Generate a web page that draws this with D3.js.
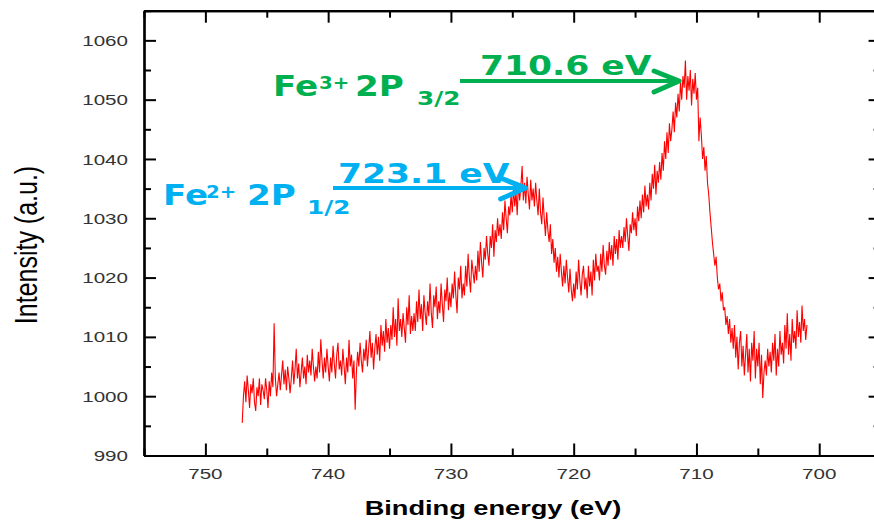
<!DOCTYPE html>
<html>
<head>
<meta charset="utf-8">
<script src="https://cdn.jsdelivr.net/npm/d3@7/dist/d3.min.js"></script>
<style>
  html, body { margin: 0; padding: 0; background: #fff; overflow: hidden; }
  svg { display: block; }
</style>
</head>
<body>
<svg id="chart" width="874" height="524"></svg>
<script>
// Fe 2p XPS spectrum: binding energy from 747.0 eV down to 701.0 eV in 0.1 eV steps
const energyStart = 747.0;
const energyStep = -0.1;
const intensity = [
  995.5, 1000, 1002.5, 999, 1003.5, 1001, 998, 1002, 1000.5, 1003,
  999, 997.5, 1001.5, 1000, 1003, 998.5, 1002, 1001, 999.5, 1003,
  1001, 998, 1002.5, 1000, 1004, 1001.5, 1012.3, 1003, 1000, 1002,
  1004, 1001, 1003.5, 1006, 1002, 1004.5, 1001, 1005, 1003, 1000.5,
  1003, 1006, 1002, 1004.5, 1008, 1003, 1005.5, 1001.5, 1004, 1006.5,
  1003, 1005, 1002, 1007, 1004, 1006, 1003.5, 1008, 1005, 1002.5,
  1005, 1003, 1007.5, 1004, 1009.6, 1006, 1003, 1006.5, 1004, 1008,
  1005, 1002.5, 1006.5, 1004, 1008.5, 1005.5, 1003, 1007, 1009, 1004.5,
  1006, 1003.5, 1008, 1005, 1002, 1006.5, 1004, 1009.5, 1005, 1007,
  1003, 1006, 997.7, 1004, 1007.5, 1005, 1009, 1006, 1004, 1008,
  1006, 1009.5, 1005, 1008, 1011, 1006.5, 1009, 1004.5, 1008, 1010.5,
  1007, 1010, 1006, 1012, 1008.5, 1011, 1007.5, 1013, 1009, 1011.5,
  1008, 1012, 1009.5, 1015, 1010, 1013, 1008.5, 1016.5, 1011, 1013,
  1010, 1014, 1011.5, 1009, 1015, 1012, 1017, 1010.5, 1013.5, 1011,
  1014, 1011, 1016, 1012.5, 1018, 1013, 1015.5, 1011, 1017, 1014,
  1012, 1016, 1013.5, 1019, 1014, 1011.5, 1017, 1015, 1018.5, 1013,
  1016, 1014, 1019, 1015.5, 1012.5, 1018, 1016, 1020, 1014.5, 1017.5,
  1015, 1019, 1016.5, 1021, 1017, 1014, 1020, 1018, 1022, 1016.5,
  1019, 1017, 1022, 1018.5, 1024, 1020, 1017.5, 1023, 1021, 1019,
  1022, 1019.5, 1024.5, 1021, 1026, 1022.5, 1020, 1025, 1023, 1027,
  1024, 1022, 1027, 1025, 1029, 1023.5, 1028, 1026, 1030, 1027,
  1029, 1026.5, 1031, 1028, 1033, 1030, 1027.5, 1032, 1030.5, 1034,
  1031, 1035, 1032, 1034.5, 1030.5, 1036, 1033, 1035.5, 1038.8, 1033,
  1036, 1032.5, 1037, 1034, 1031.5, 1036.5, 1033, 1035, 1032, 1036,
  1033, 1030.5, 1035, 1031, 1029, 1033.5, 1030, 1027, 1031, 1028,
  1026, 1029, 1024, 1026.5, 1022.5, 1025, 1021, 1023.5, 1020, 1024,
  1021, 1018.5, 1022, 1019, 1023, 1020, 1017.5, 1021.5, 1018, 1016,
  1019, 1016.5, 1021, 1018, 1023, 1019.5, 1017, 1020.5, 1022, 1018,
  1020, 1016.5, 1022, 1018.5, 1021, 1017, 1023, 1019.5, 1024, 1021,
  1022, 1019.5, 1024, 1021, 1025.5, 1022, 1020.5, 1024.5, 1022, 1026,
  1023, 1025.5, 1022, 1027, 1024, 1026.5, 1023, 1028, 1025, 1027,
  1025, 1028.5, 1026, 1030, 1027, 1024.5, 1029, 1027.5, 1031, 1028,
  1030, 1027, 1032, 1029.5, 1033, 1030, 1034, 1031, 1035.5, 1032,
  1034, 1031.5, 1036, 1033, 1037.5, 1035, 1039, 1034, 1038, 1036,
  1039.5, 1036.5, 1041, 1038, 1043, 1040, 1044.5, 1041, 1046, 1043,
  1045, 1048, 1044.5, 1049.5, 1047, 1051, 1048, 1053, 1050, 1054,
  1052, 1056.6, 1050, 1054, 1051.5, 1055, 1049, 1053.5, 1051, 1054.5,
  1050, 1052, 1043, 1047, 1044, 1040, 1042, 1038, 1040.5, 1036,
  1034, 1031, 1028.5, 1026, 1024, 1022, 1023.5, 1020, 1018, 1019,
  1016, 1017.5, 1014.5, 1015, 1012, 1013.5, 1010.5, 1013, 1009, 1011.5,
  1008, 1012, 1006.5, 1010, 1004.5, 1009, 1011, 1005, 1008.5, 1003.5,
  1007, 1010.5, 1004, 1008, 1002.5, 1009, 1006, 1011, 1003, 1008,
  1005, 1009, 1002, 1007, 999.7, 1004, 1006, 1003.5, 1008, 1005,
  1007.5, 1004, 1009, 1006, 1010.5, 1003.5, 1008, 1005, 1011, 1007,
  1009, 1005.5, 1012, 1008, 1014, 1007, 1010.5, 1006, 1013, 1009,
  1011, 1008, 1014.5, 1010, 1012.5, 1009, 1015.3, 1011, 1013, 1009.5,
  1012
];

// Axis ranges and ticks
const xDomain = [755, 695];
const yDomain = [990, 1065];
const xMajorTicks = [750, 740, 730, 720, 710, 700];
const xMinorTicks = [755, 745, 735, 725, 715, 705, 695];
const yMajorTicks = [990, 1000, 1010, 1020, 1030, 1040, 1050, 1060];
const yMinorTicks = [995, 1005, 1015, 1025, 1035, 1045, 1055, 1065];

// Peak annotations
const peaks = [
  { energy: 723.1, label: "723.1 eV", ion: "Fe", charge: "2+", orbital: "2P", sub: "1/2", color: "#00b0f0" },
  { energy: 710.6, label: "710.6 eV", ion: "Fe", charge: "3+", orbital: "2P", sub: "3/2", color: "#00b050" }
];

const data = intensity.map((v, i) => ({ e: +(energyStart + i * energyStep).toFixed(1), v }));

const svg = d3.select("#chart");
const plot = { left: 144, right: 880.6, top: 10.7, bottom: 455.5 };
const x = d3.scaleLinear().domain(xDomain).range([plot.left, plot.right]);
const y = d3.scaleLinear().domain(yDomain).range([plot.bottom, plot.top]);

const STRETCH = 1.33;
const tickFont = "'Liberation Sans', Arial, sans-serif";

// Text drawn with a horizontal stretch around its anchor point
function stretchedText(parent, px, py, str, opts) {
  const g = parent.append("g").attr("transform", `translate(${px},${py}) scale(${opts.sx || STRETCH},1)${opts.rotate ? ` rotate(${opts.rotate})` : ""}`);
  return g.append("text")
    .attr("x", 0).attr("y", 0)
    .attr("text-anchor", opts.anchor || "start")
    .attr("font-family", opts.family || tickFont)
    .attr("font-size", opts.size)
    .attr("font-weight", opts.weight || "normal")
    .attr("fill", opts.fill || "#000")
    .text(str);
}

// Spectrum line
const line = d3.line().x(d => x(d.e)).y(d => y(d.v));
svg.append("path")
  .datum(data)
  .attr("fill", "none")
  .attr("stroke", "#ff0000")
  .attr("stroke-width", 1.1)
  .attr("d", line);

// Frame with inward ticks; the right edge lies past the view, so only its ticks show
const MAJ = 12, MIN = 7;
function drawAxis(gen, tx, ty, withDomain) {
  const g = svg.append("g").attr("transform", `translate(${tx},${ty})`).call(gen);
  if (withDomain) g.selectAll("path.domain").attr("stroke", "#000").attr("stroke-width", 2.2);
  else g.selectAll("path.domain").remove();
  g.selectAll(".tick line").attr("stroke", "#000").attr("stroke-width", 2);
  return g;
}
const axisSpecs = [
  [d3.axisBottom, x, xMajorTicks, xMinorTicks, 0, plot.bottom, true],
  [d3.axisTop, x, xMajorTicks, xMinorTicks, 0, plot.top, true],
  [d3.axisLeft, y, yMajorTicks, yMinorTicks, plot.left, 0, true],
  [d3.axisRight, y, yMajorTicks, yMinorTicks, plot.right, 0, false]
];
axisSpecs.forEach(([make, scale, major, minor, tx, ty, withDomain]) => {
  drawAxis(make(scale).tickValues(minor).tickSize(-MIN).tickSizeOuter(0).tickFormat(""), tx, ty, withDomain);
  drawAxis(make(scale).tickValues(major).tickSize(-MAJ).tickSizeOuter(0).tickFormat(""), tx, ty, withDomain);
});

// Tick labels
const labels = svg.append("g");
xMajorTicks.forEach(t => {
  stretchedText(labels, x(t), 479, String(t), { anchor: "middle", size: 15.5, fill: "#333" });
});
yMajorTicks.forEach(t => {
  stretchedText(labels, 128, y(t) + 5.6, String(t), { anchor: "end", size: 15.5, fill: "#333" });
});

// Axis titles
stretchedText(svg, 493, 515, "Binding energy (eV)", { anchor: "middle", size: 20, weight: "bold", sx: 1.36 });
stretchedText(svg, 37, 245, "Intensity (a.u.)", { anchor: "middle", size: 25, rotate: -90, sx: 1.25 });

// Peak labels with arrows
const annFont = "'DejaVu Sans', Verdana, sans-serif";
const layout = [
  { fe: [163, 205], chg: [206, 198], orb: [247, 205], sub: [307, 214], val: [338, 183], arrowY: 188, arrowX0: 333 },
  { fe: [273, 96], chg: [319, 89], orb: [355, 96], sub: [417, 105], val: [480, 75], arrowY: 81, arrowX0: 460 }
];
peaks.forEach((p, i) => {
  const L = layout[i];
  const g = svg.append("g");
  const common = { family: annFont, weight: "bold", fill: p.color, sx: 1.22 };
  stretchedText(g, L.fe[0], L.fe[1], p.ion, { ...common, size: 28 });
  stretchedText(g, L.chg[0], L.chg[1], p.charge, { ...common, size: 18, sx: 1.1 });
  stretchedText(g, L.orb[0], L.orb[1], p.orbital, { ...common, size: 28 });
  stretchedText(g, L.sub[0], L.sub[1], p.sub, { ...common, size: 19, sx: 1.3 });
  stretchedText(g, L.val[0], L.val[1], p.label, { ...common, size: 27, sx: 1.28 });
  const tip = x(p.energy) - 10;
  g.append("line")
    .attr("x1", L.arrowX0).attr("y1", L.arrowY)
    .attr("x2", tip - 2).attr("y2", L.arrowY)
    .attr("stroke", p.color).attr("stroke-width", 4);
  g.append("path")
    .attr("d", `M${tip - 25},${L.arrowY - 10} L${tip},${L.arrowY} L${tip - 25},${L.arrowY + 11}`)
    .attr("fill", "none").attr("stroke", p.color).attr("stroke-width", 5)
    .attr("stroke-linecap", "round").attr("stroke-linejoin", "round");
});
</script>
</body>
</html>
